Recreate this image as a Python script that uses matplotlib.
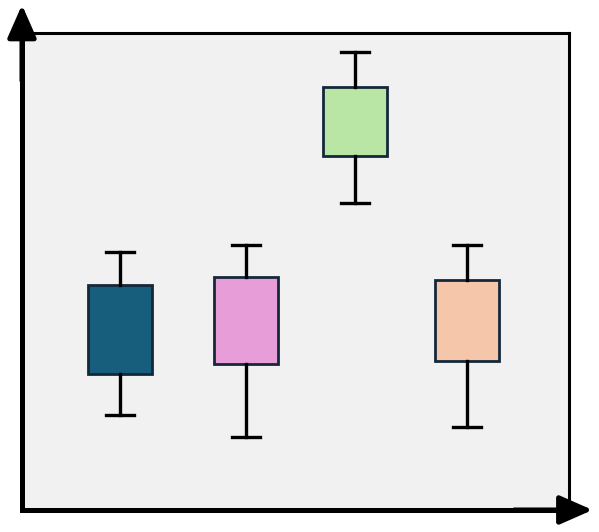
import matplotlib.pyplot as plt

# box statistics (0-10 scale)
labels = ["A", "B", "C", "D"]
whislo = [1.99, 1.53, 6.44, 1.74]
q1 = [2.85, 3.06, 7.42, 3.12]
q3 = [4.72, 4.88, 8.87, 4.82]
whishi = [5.41, 5.56, 9.60, 5.56]
positions = [0.98, 2.24, 3.33, 4.45]
colors = ["#175d7c", "#e69dd8", "#b9e6a5", "#f6c6ab"]

stats = []
for i in range(len(labels)):
    stats.append(dict(label=labels[i], whislo=whislo[i], q1=q1[i],
                      med=(q1[i] + q3[i]) / 2, q3=q3[i], whishi=whishi[i]))

fig = plt.figure(figsize=(5.99, 5.32), dpi=100)
ax = fig.add_axes([0.0367, 0.0414, 0.9133, 0.8966])
ax.set_facecolor("#f1f1f1")

bp = ax.bxp(stats, positions=positions, widths=0.64, capwidths=[0.28] * 4,
            showfliers=False, patch_artist=True,
            boxprops=dict(edgecolor="#14283a", linewidth=2.0),
            whiskerprops=dict(color="black", linewidth=2.4),
            capprops=dict(color="black", linewidth=2.4),
            medianprops=dict(linewidth=0))
for patch, c in zip(bp["boxes"], colors):
    patch.set_facecolor(c)

ax.set_xlim(0, 5.47)
ax.set_ylim(0, 10)
ax.set_xticks([])
ax.set_yticks([])

for side in ["top", "right"]:
    ax.spines[side].set_linewidth(2.2)
for side in ["left", "bottom"]:
    ax.spines[side].set_linewidth(3.6)

# arrow heads on the axes
head = "-|>,head_length=0.5,head_width=0.22"
ax.annotate("", xy=(0, 1.059), xytext=(0, 0.9), xycoords="axes fraction",
            arrowprops=dict(arrowstyle=head, lw=3.6, color="black",
                            mutation_scale=40, shrinkA=0, shrinkB=0))
ax.annotate("", xy=(1.043, 0), xytext=(0.9, 0), xycoords="axes fraction",
            arrowprops=dict(arrowstyle=head, lw=3.6, color="black",
                            mutation_scale=40, shrinkA=0, shrinkB=0))

fig.savefig("out.png", dpi=100)
